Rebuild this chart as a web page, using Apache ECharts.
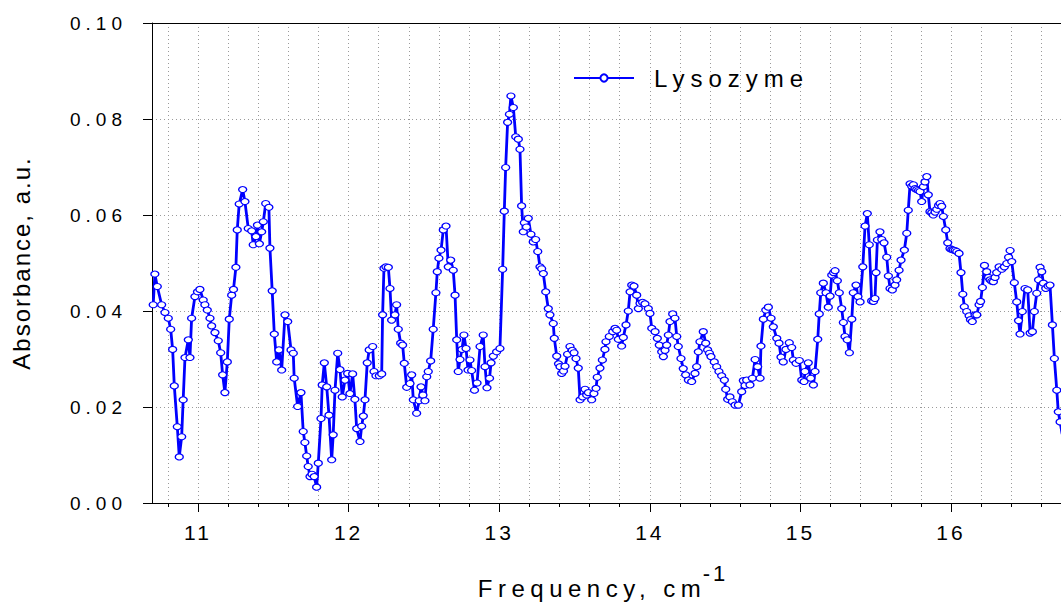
<!DOCTYPE html>
<html>
<head>
<meta charset="utf-8">
<script src="https://cdn.jsdelivr.net/npm/echarts@6/dist/echarts.min.js"></script>
<style>
  html, body { margin: 0; padding: 0; background: #ffffff; }
  #chart { width: 1061px; height: 605px; }
  #chart text { letter-spacing: 5px; }
</style>
</head>
<body>
<div id="chart"></div>
<script>
// Lysozyme absorbance spectrum: frequency (cm^-1) and absorbance (a.u.)
const frequency = [
  10.703, 10.714, 10.730, 10.759, 10.781, 10.803, 10.819, 10.832, 10.843, 10.863,
  10.876, 10.892, 10.902, 10.914, 10.936, 10.947, 10.958, 10.980, 10.997, 11.013,
  11.035, 11.046, 11.062, 11.080, 11.091, 11.113, 11.135, 11.151, 11.164, 11.179,
  11.195, 11.208, 11.224, 11.236, 11.252, 11.261, 11.274, 11.297, 11.312, 11.334,
  11.357, 11.367, 11.385, 11.395, 11.408, 11.423, 11.434, 11.450, 11.471, 11.478,
  11.493, 11.507, 11.523, 11.538, 11.556, 11.578, 11.596, 11.618, 11.633, 11.639,
  11.662, 11.684, 11.699, 11.710, 11.722, 11.732, 11.744, 11.757, 11.772, 11.788,
  11.799, 11.817, 11.825, 11.839, 11.855, 11.870, 11.888, 11.898, 11.910, 11.928,
  11.943, 11.958, 11.976, 11.994, 12.009, 12.027, 12.042, 12.054, 12.076, 12.087,
  12.098, 12.109, 12.124, 12.137, 12.160, 12.169, 12.182, 12.204, 12.220, 12.226,
  12.235, 12.248, 12.264, 12.275, 12.286, 12.308, 12.319, 12.330, 12.346, 12.359,
  12.370, 12.386, 12.408, 12.419, 12.430, 12.452, 12.469, 12.481, 12.494, 12.507,
  12.519, 12.529, 12.545, 12.562, 12.580, 12.589, 12.600, 12.614, 12.629, 12.647,
  12.662, 12.678, 12.695, 12.707, 12.718, 12.728, 12.740, 12.753, 12.766, 12.780,
  12.793, 12.806, 12.817, 12.836, 12.853, 12.873, 12.894, 12.906, 12.919, 12.936,
  12.946, 12.961, 12.983, 13.005, 13.023, 13.034, 13.043, 13.056, 13.068, 13.078,
  13.094, 13.110, 13.127, 13.138, 13.149, 13.160, 13.167, 13.181, 13.193, 13.211,
  13.226, 13.242, 13.256, 13.271, 13.282, 13.293, 13.309, 13.326, 13.337, 13.359,
  13.366, 13.382, 13.394, 13.404, 13.415, 13.427, 13.437, 13.454, 13.470, 13.485,
  13.497, 13.510, 13.525, 13.537, 13.554, 13.570, 13.581, 13.592, 13.614, 13.629,
  13.643, 13.651, 13.669, 13.685, 13.702, 13.709, 13.731, 13.754, 13.769, 13.780,
  13.791, 13.813, 13.824, 13.842, 13.857, 13.869, 13.880, 13.895, 13.913, 13.924,
  13.935, 13.952, 13.968, 13.990, 14.001, 14.013, 14.035, 14.050, 14.063, 14.079,
  14.090, 14.101, 14.112, 14.123, 14.134, 14.152, 14.167, 14.179, 14.189, 14.207,
  14.222, 14.238, 14.256, 14.278, 14.300, 14.311, 14.322, 14.333, 14.355, 14.371,
  14.384, 14.396, 14.406, 14.428, 14.444, 14.459, 14.477, 14.495, 14.504, 14.517,
  14.532, 14.548, 14.566, 14.588, 14.610, 14.621, 14.632, 14.643, 14.665, 14.681,
  14.699, 14.716, 14.732, 14.738, 14.754, 14.770, 14.787, 14.805, 14.820, 14.843,
  14.858, 14.871, 14.886, 14.904, 14.926, 14.942, 14.953, 14.971, 14.993, 15.009,
  15.024, 15.030, 15.052, 15.068, 15.086, 15.097, 15.115, 15.125, 15.135, 15.152,
  15.170, 15.185, 15.197, 15.208, 15.220, 15.230, 15.245, 15.258, 15.274, 15.285,
  15.296, 15.311, 15.325, 15.341, 15.351, 15.369, 15.382, 15.396, 15.414, 15.429,
  15.444, 15.457, 15.473, 15.485, 15.495, 15.502, 15.511, 15.528, 15.540, 15.555,
  15.573, 15.584, 15.595, 15.610, 15.628, 15.639, 15.655, 15.668, 15.690, 15.706,
  15.716, 15.728, 15.739, 15.750, 15.761, 15.772, 15.784, 15.794, 15.805, 15.816,
  15.827, 15.839, 15.849, 15.860, 15.872, 15.882, 15.894, 15.905, 15.917, 15.927,
  15.938, 15.949, 15.965, 15.978, 15.993, 16.005, 16.015, 16.027, 16.038, 16.053,
  16.066, 16.078, 16.088, 16.104, 16.120, 16.129, 16.141, 16.159, 16.171, 16.186,
  16.196, 16.208, 16.222, 16.237, 16.249, 16.259, 16.270, 16.281, 16.292, 16.303,
  16.319, 16.337, 16.354, 16.370, 16.382, 16.392, 16.403, 16.420, 16.436, 16.448,
  16.458, 16.473, 16.491, 16.509, 16.525, 16.540, 16.553, 16.569, 16.581, 16.591,
  16.602, 16.613, 16.629, 16.644, 16.657, 16.673, 16.686, 16.702, 16.712, 16.724,
  16.737, 16.750
];

const absorbance = [
  0.0413, 0.0477, 0.0451, 0.0413, 0.0397, 0.0385, 0.0362, 0.0320, 0.0244, 0.0159,
  0.0096, 0.0138, 0.0215, 0.0303, 0.0340, 0.0303, 0.0385, 0.0430, 0.0440, 0.0445,
  0.0423, 0.0413, 0.0402, 0.0385, 0.0369, 0.0355, 0.0338, 0.0313, 0.0267, 0.0230,
  0.0294, 0.0383, 0.0433, 0.0445, 0.0491, 0.0569, 0.0623, 0.0653, 0.0628, 0.0572,
  0.0567, 0.0538, 0.0555, 0.0579, 0.0540, 0.0565, 0.0586, 0.0624, 0.0616, 0.0531,
  0.0442, 0.0352, 0.0294, 0.0319, 0.0277, 0.0392, 0.0378, 0.0319, 0.0312, 0.0260,
  0.0201, 0.0230, 0.0149, 0.0126, 0.0098, 0.0076, 0.0055, 0.0060, 0.0055, 0.0033,
  0.0083, 0.0176, 0.0246, 0.0292, 0.0242, 0.0183, 0.0090, 0.0142, 0.0235, 0.0312,
  0.0278, 0.0221, 0.0256, 0.0270, 0.0228, 0.0269, 0.0216, 0.0155, 0.0128, 0.0160,
  0.0181, 0.0215, 0.0292, 0.0319, 0.0326, 0.0274, 0.0265, 0.0265, 0.0269, 0.0392,
  0.0489, 0.0492, 0.0491, 0.0447, 0.0381, 0.0392, 0.0413, 0.0362, 0.0333, 0.0329,
  0.0291, 0.0241, 0.0249, 0.0267, 0.0215, 0.0187, 0.0213, 0.0242, 0.0225, 0.0213,
  0.0263, 0.0274, 0.0296, 0.0362, 0.0438, 0.0482, 0.0510, 0.0527, 0.0569, 0.0577,
  0.0492, 0.0506, 0.0485, 0.0433, 0.0340, 0.0274, 0.0299, 0.0320, 0.0350, 0.0322,
  0.0277, 0.0298, 0.0276, 0.0235, 0.0250, 0.0326, 0.0350, 0.0284, 0.0240, 0.0260,
  0.0292, 0.0306, 0.0315, 0.0322, 0.0487, 0.0608, 0.0699, 0.0793, 0.0810, 0.0848,
  0.0824, 0.0763, 0.0758, 0.0737, 0.0619, 0.0565, 0.0584, 0.0575, 0.0593, 0.0560,
  0.0544, 0.0549, 0.0524, 0.0492, 0.0488, 0.0478, 0.0440, 0.0405, 0.0392, 0.0374,
  0.0343, 0.0306, 0.0290, 0.0284, 0.0270, 0.0275, 0.0285, 0.0310, 0.0326, 0.0318,
  0.0313, 0.0301, 0.0281, 0.0215, 0.0221, 0.0237, 0.0225, 0.0230, 0.0215, 0.0228,
  0.0239, 0.0262, 0.0281, 0.0298, 0.0320, 0.0336, 0.0347, 0.0357, 0.0364, 0.0360,
  0.0341, 0.0327, 0.0345, 0.0371, 0.0400, 0.0440, 0.0454, 0.0452, 0.0433, 0.0405,
  0.0416, 0.0418, 0.0415, 0.0405, 0.0395, 0.0364, 0.0357, 0.0343, 0.0329, 0.0315,
  0.0305, 0.0318, 0.0329, 0.0350, 0.0378, 0.0394, 0.0385, 0.0347, 0.0326, 0.0301,
  0.0280, 0.0267, 0.0256, 0.0253, 0.0270, 0.0284, 0.0315, 0.0336, 0.0357, 0.0333,
  0.0319, 0.0312, 0.0305, 0.0294, 0.0284, 0.0274, 0.0265, 0.0256, 0.0237, 0.0216,
  0.0221, 0.0211, 0.0204, 0.0204, 0.0232, 0.0255, 0.0245, 0.0256, 0.0246, 0.0260,
  0.0299, 0.0284, 0.0260, 0.0327, 0.0383, 0.0402, 0.0408, 0.0385, 0.0367, 0.0343,
  0.0333, 0.0304, 0.0294, 0.0320, 0.0334, 0.0324, 0.0298, 0.0291, 0.0297, 0.0256,
  0.0253, 0.0274, 0.0292, 0.0260, 0.0246, 0.0274, 0.0341, 0.0394, 0.0438, 0.0458,
  0.0438, 0.0408, 0.0431, 0.0475, 0.0480, 0.0484, 0.0463, 0.0438, 0.0405, 0.0376,
  0.0347, 0.0340, 0.0313, 0.0383, 0.0438, 0.0454, 0.0430, 0.0419, 0.0492, 0.0577,
  0.0603, 0.0538, 0.0421, 0.0420, 0.0426, 0.0480, 0.0548, 0.0565, 0.0549, 0.0542,
  0.0512, 0.0473, 0.0447, 0.0444, 0.0454, 0.0465, 0.0485, 0.0506, 0.0527, 0.0562,
  0.0610, 0.0665, 0.0660, 0.0663, 0.0655, 0.0653, 0.0651, 0.0649, 0.0628, 0.0659,
  0.0669, 0.0680, 0.0642, 0.0607, 0.0605, 0.0600, 0.0606, 0.0612, 0.0620, 0.0624,
  0.0618, 0.0597, 0.0569, 0.0542, 0.0530, 0.0528, 0.0527, 0.0526, 0.0524, 0.0520,
  0.0480, 0.0435, 0.0409, 0.0399, 0.0390, 0.0382, 0.0378, 0.0392, 0.0392, 0.0413,
  0.0420, 0.0449, 0.0495, 0.0482, 0.0470, 0.0465, 0.0462, 0.0461, 0.0470, 0.0480,
  0.0492, 0.0487, 0.0492, 0.0499, 0.0512, 0.0526, 0.0503, 0.0459, 0.0419, 0.0380,
  0.0352, 0.0399, 0.0447, 0.0444, 0.0354, 0.0357, 0.0399, 0.0437, 0.0465, 0.0491,
  0.0482, 0.0458, 0.0447, 0.0452, 0.0454, 0.0371, 0.0301, 0.0235, 0.0190, 0.0169,
  0.0145, 0.0130
];

// Axis ticks
const xMajorTicks = [11, 12, 13, 14, 15, 16];
const xMinorTicks = [10.8, 11.0, 11.2, 11.4, 11.6, 11.8, 12.0, 12.2, 12.4, 12.6, 12.8,
  13.0, 13.2, 13.4, 13.6, 13.8, 14.0, 14.2, 14.4, 14.6, 14.8, 15.0, 15.2, 15.4, 15.6,
  15.8, 16.0, 16.2, 16.4, 16.6];
const xRange = [10.695, 16.73];
const yRange = [0, 0.10];
const yStep = 0.02;

const seriesName = 'Lysozyme';
const xTitle = 'Frequency, cm';
const xTitleExponent = '-1';
const yTitle = 'Absorbance, a.u.';
const points = frequency.map((f, i) => [f, absorbance[i]]);

const FONT = '"Liberation Sans", Arial, sans-serif';
const blue = '#0000ff';
const dotted = { color: '#9a9a9a', width: 1, type: [1, 3] };

const chart = echarts.init(document.getElementById('chart'), null, { renderer: 'svg' });

chart.setOption({
  animation: false,
  backgroundColor: '#ffffff',
  grid: { left: 152, right: 0, top: 23, bottom: 102, containLabel: false },
  legend: {
    data: [seriesName],
    left: 568,
    top: 61,
    itemWidth: 60,
    itemHeight: 9,
    itemGap: 0,
    textStyle: { fontFamily: FONT, fontSize: 24, color: '#000', padding: [0, 0, 0, 15] }
  },
  xAxis: [
    {
      // main bottom axis: integer ticks, labels and title
      type: 'value',
      min: xRange[0],
      max: xRange[1],
      position: 'bottom',
      axisLine: { show: true, lineStyle: { color: '#000', width: 1 } },
      axisTick: { show: true, customValues: xMajorTicks, length: 9, lineStyle: { color: '#000' } },
      axisLabel: {
        customValues: xMajorTicks,
        margin: 19,
        fontFamily: FONT,
        fontSize: 21,
        color: '#000'
      },
      splitLine: { show: false },
      name: xTitle,
      nameLocation: 'middle',
      nameGap: 73,
      nameTextStyle: { fontFamily: FONT, fontSize: 24, color: '#000', padding: [0, 29, 0, 0] }
    },
    {
      // minor ticks, vertical dotted grid and the unit exponent
      type: 'value',
      min: xRange[0],
      max: xRange[1],
      position: 'bottom',
      axisLine: { show: false },
      axisTick: { show: true, customValues: xMinorTicks, length: 4, lineStyle: { color: '#000' } },
      axisLabel: { show: false },
      splitLine: { show: true, lineStyle: dotted },
      name: xTitleExponent,
      nameLocation: 'middle',
      nameGap: 59,
      nameTextStyle: { fontFamily: FONT, fontSize: 22, color: '#000', padding: [0, 0, 0, 218] }
    },
    {
      // top frame line
      type: 'value',
      min: xRange[0],
      max: xRange[1],
      position: 'top',
      axisLine: { show: true, lineStyle: { color: '#000', width: 1 } },
      axisTick: { show: false },
      axisLabel: { show: false },
      splitLine: { show: false }
    }
  ],
  yAxis: {
    type: 'value',
    min: yRange[0],
    max: yRange[1],
    interval: yStep,
    axisLine: { show: true, lineStyle: { color: '#000', width: 1 } },
    axisTick: { show: true, length: 9, lineStyle: { color: '#000' } },
    axisLabel: {
      margin: 25,
      fontFamily: FONT,
      fontSize: 19,
      color: '#000',
      formatter: v => v.toFixed(2)
    },
    splitLine: { show: true, lineStyle: dotted },
    name: yTitle,
    nameLocation: 'middle',
    nameRotate: 90,
    nameGap: 119,
    nameTextStyle: { fontFamily: FONT, fontSize: 24, color: '#000' }
  },
  series: [
    {
      name: seriesName,
      type: 'line',
      xAxisIndex: 0,
      data: points,
      clip: true,
      symbol: 'circle',
      symbolSize: [8, 6],
      showAllSymbol: true,
      lineStyle: { color: blue, width: 2.8 },
      itemStyle: { color: '#ffffff', borderColor: blue, borderWidth: 1.2 },
      emphasis: { disabled: true },
      z: 5
    }
  ]
});

// Letter spacing for each text role
function tuneSpacing() {
  document.querySelectorAll('#chart text').forEach(t => {
    const s = (t.textContent || '').trim();
    if (s === yTitle) t.style.letterSpacing = '2px';
    else if (s === seriesName) t.style.letterSpacing = '6px';
    else if (s === xTitle) t.style.letterSpacing = '5.5px';
    else if (s === xTitleExponent) t.style.letterSpacing = '3px';
    else if (/^1\d$/.test(s)) t.style.letterSpacing = '3px';
  });
}
tuneSpacing();
chart.on('finished', tuneSpacing);
</script>
</body>
</html>
